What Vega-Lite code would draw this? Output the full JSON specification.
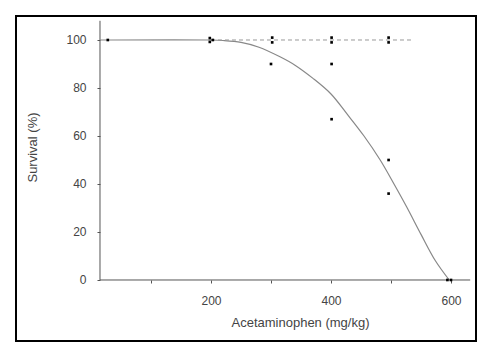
{
  "$schema": "https://vega.github.io/schema/vega-lite/v6.json",
  "autosize": {"type": "none"},
  "padding": {"left": 16, "top": 16, "right": 15, "bottom": 17},
  "width": 460,
  "height": 325,
  "background": "white",
  "config": {
    "view": {"stroke": "black", "strokeWidth": 2},
    "font": "Liberation Sans"
  },
  "datasets": {
    "axes": [
      {"x": 15, "x2": 632, "y": 0, "y2": 0},
      {"x": 15, "x2": 15, "y": 0, "y2": 108}
    ],
    "curve": [
      {"x": 15, "y": 100}, {"x": 200, "y": 100}, {"x": 220, "y": 99.8},
      {"x": 250, "y": 99}, {"x": 280, "y": 97}, {"x": 315, "y": 93},
      {"x": 340, "y": 89.5}, {"x": 370, "y": 84}, {"x": 400, "y": 77.5},
      {"x": 426, "y": 69.4}, {"x": 455, "y": 60}, {"x": 482, "y": 50},
      {"x": 505, "y": 40}, {"x": 526, "y": 30.5}, {"x": 550, "y": 19},
      {"x": 574, "y": 8}, {"x": 597, "y": 0}
    ],
    "ref": [{"x": 200, "y": 100}, {"x": 537, "y": 100}],
    "obs": [
      {"x": 28, "y": 100},
      {"x": 198, "y": 100.8}, {"x": 198, "y": 99.2}, {"x": 203, "y": 100},
      {"x": 302, "y": 101}, {"x": 302, "y": 99}, {"x": 300, "y": 90},
      {"x": 401, "y": 101}, {"x": 401, "y": 99}, {"x": 401, "y": 90}, {"x": 401, "y": 67},
      {"x": 496, "y": 101}, {"x": 496, "y": 99}, {"x": 496, "y": 50}, {"x": 496, "y": 36},
      {"x": 594, "y": 0}, {"x": 600, "y": 0}
    ]
  },
  "encoding": {
    "x": {
      "field": "x", "type": "quantitative",
      "scale": {"domain": [-125, 641.67], "nice": false, "zero": false},
      "axis": {
        "orient": "bottom", "offset": -61, "domain": false, "grid": false,
        "values": [100, 200, 300, 400, 500, 600],
        "labelExpr": "datum.value % 200 == 0 ? datum.label : ''",
        "tickSize": 3, "tickColor": "#555", "labelPadding": 12,
        "labelFontSize": 12, "labelColor": "#444", "labelFont": "Liberation Sans",
        "title": "Acetaminophen (mg/kg)", "titleFontSize": 13, "titleFontWeight": "normal",
        "titleColor": "#444", "titleFont": "Liberation Sans",
        "titleX": 284, "titleY": 42, "titleBaseline": "middle", "titleAlign": "center"
      }
    },
    "y": {
      "field": "y", "type": "quantitative",
      "scale": {"domain": [-25.42, 110], "nice": false, "zero": false},
      "axis": {
        "orient": "left", "offset": -84, "domain": false, "grid": false,
        "values": [0, 20, 40, 60, 80, 100],
        "tickSize": 3, "tickColor": "#555", "labelPadding": 11,
        "labelFontSize": 12, "labelColor": "#444", "labelFont": "Liberation Sans",
        "title": "Survival (%)", "titleFontSize": 13, "titleFontWeight": "normal",
        "titleColor": "#444", "titleFont": "Liberation Sans",
        "titleX": -68, "titleY": 131, "titleBaseline": "middle", "titleAlign": "center"
      }
    }
  },
  "layer": [
    {
      "data": {"name": "axes"},
      "mark": {"type": "rule", "color": "#555", "strokeWidth": 1},
      "encoding": {"x2": {"field": "x2"}, "y2": {"field": "y2"}}
    },
    {
      "data": {"name": "curve"},
      "mark": {"type": "line", "color": "#888", "strokeWidth": 1.2, "interpolate": "catmull-rom"}
    },
    {
      "data": {"name": "ref"},
      "mark": {"type": "line", "color": "#999", "strokeWidth": 1, "strokeDash": [4, 3]}
    },
    {
      "data": {"name": "obs"},
      "mark": {"type": "point", "shape": "square", "filled": true, "size": 7, "color": "black", "opacity": 1}
    }
  ]
}
